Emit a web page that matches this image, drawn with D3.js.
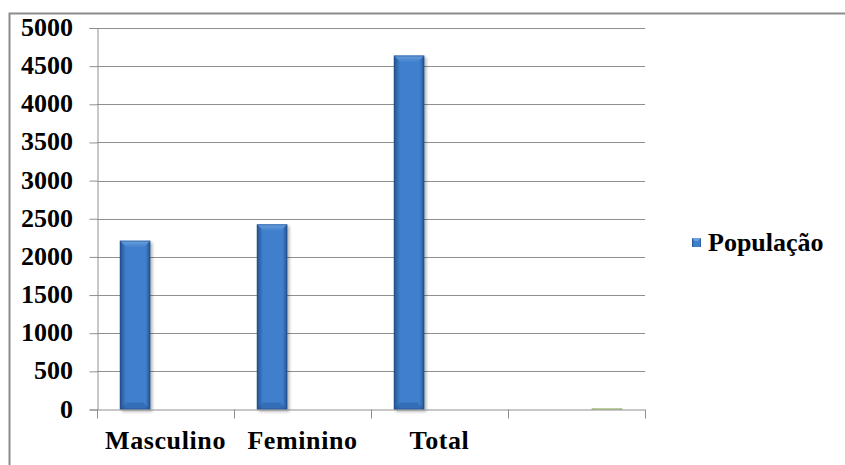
<!DOCTYPE html>
<html>
<head>
<meta charset="utf-8">
<script src="https://cdn.jsdelivr.net/npm/d3@7"></script>
<style>
  html, body { margin: 0; padding: 0; background: #fff; }
  #wrap { position: relative; width: 845px; height: 465px; overflow: hidden; }
  #wrap svg { position: absolute; left: 0; top: 0; display: block; }
  .lbl { position: absolute; font: bold 26px "Liberation Serif", "Times New Roman", serif;
         line-height: 26px; color: #000; white-space: nowrap; }
  .xlbl { letter-spacing: 0.6px; }
</style>
</head>
<body>
<div id="wrap"><svg id="chart" width="845" height="465"></svg></div>
<script>
// Categories along the x axis (the fourth slot is unlabeled)
const categories = ["Masculino", "Feminino", "Total", ""];
// Series values per category
const populacao = [2212, 2427, 4639, 0];
const serie2 = [0, 0, 0, 0];
const serie3 = [0, 0, 0, 15];
const seriesNames = ["População", "Série 2", "Série 3"];
const seriesValues = [populacao, serie2, serie3];
// Value-axis tick labels
const yTicks = [0, 500, 1000, 1500, 2000, 2500, 3000, 3500, 4000, 4500, 5000];

const BASE = 21.8; // baseline offset inside a 26px label line
const wrap = d3.select("#wrap");
const svg = d3.select("#chart");
const W = 845, H = 465;
const plot = { left: 97, right: 645, top: 28, bottom: 409.5 };

const seriesColors = [
  { mid: "#3f7fcc", edge: "#24528f", light: "#6fa3e0", dark: "#1e4a85" },
  { mid: "#c0504d", edge: "#8c2f2d", light: "#d98482", dark: "#7a2826" },
  { mid: "#c2d69a", edge: "#9bb56a", light: "#dbe8c3", dark: "#8fa860" }
];

const defs = svg.append("defs");
seriesColors.forEach((c, i) => {
  const g = defs.append("linearGradient").attr("id", "body" + i)
    .attr("x1", "0").attr("x2", "1").attr("y1", "0").attr("y2", "0");
  g.append("stop").attr("offset", "0").attr("stop-color", c.edge);
  g.append("stop").attr("offset", "0.2").attr("stop-color", c.mid);
  g.append("stop").attr("offset", "0.85").attr("stop-color", c.mid);
  g.append("stop").attr("offset", "1").attr("stop-color", c.edge);
  const t = defs.append("linearGradient").attr("id", "top" + i)
    .attr("x1", "0").attr("x2", "0").attr("y1", "0").attr("y2", "1");
  t.append("stop").attr("offset", "0").attr("stop-color", c.light);
  t.append("stop").attr("offset", "1").attr("stop-color", c.mid);
});
const shadow = defs.append("filter").attr("id", "shadow")
  .attr("x", "-20%").attr("y", "-5%").attr("width", "160%").attr("height", "115%");
shadow.append("feGaussianBlur").attr("in", "SourceAlpha").attr("stdDeviation", 1.6).attr("result", "b");
shadow.append("feOffset").attr("in", "b").attr("dx", 1.5).attr("dy", 2).attr("result", "o");
shadow.append("feComponentTransfer").attr("in", "o").attr("result", "s")
  .append("feFuncA").attr("type", "linear").attr("slope", 0.3);
const fm = shadow.append("feMerge");
fm.append("feMergeNode").attr("in", "s");
fm.append("feMergeNode").attr("in", "SourceGraphic");

// Chart-area frame
svg.append("rect")
  .attr("x", 9.5).attr("y", 13.5).attr("width", W + 20).attr("height", H + 20)
  .attr("fill", "none").attr("stroke", "#8c8c8c").attr("stroke-width", 2);

const x0 = d3.scaleBand().domain(categories.map((d, i) => i)).range([plot.left, plot.right]);
const bw = x0.bandwidth() / 4.5; // gap width 150%
const x1 = d3.scaleBand().domain(d3.range(seriesNames.length)).range([0.75 * bw, 3.75 * bw]);
const y = d3.scaleLinear().domain([0, 5000]).range([plot.bottom, plot.top]);

// Gridlines
svg.append("g").selectAll("line").data(yTicks.filter(v => v > 0)).join("line")
  .attr("x1", plot.left).attr("x2", plot.right)
  .attr("y1", d => Math.round(y(d)) + 0.5).attr("y2", d => Math.round(y(d)) + 0.5)
  .attr("stroke", "#8f8f8f").attr("stroke-width", 1);

// Value axis (line + ticks drawn by d3.axisLeft, labels set as HTML below)
const yAxis = svg.append("g").attr("transform", `translate(${plot.left + 0.5},0)`)
  .call(d3.axisLeft(y).tickValues(yTicks).tickSize(8).tickFormat(""));
yAxis.select(".domain").attr("stroke", "#8f8f8f");
yAxis.selectAll(".tick line").attr("stroke", "#8f8f8f");

wrap.selectAll("div.ylbl").data(yTicks).join("div")
  .attr("class", "lbl ylbl")
  .style("right", (W - 73) + "px")
  .style("top", d => (y(d) - 13) + "px")
  .text(d => d3.format("d")(d));

// Bars
const barG = svg.append("g");
seriesValues.forEach((vals, si) => {
  vals.forEach((v, ci) => {
    if (v <= 0) return;
    const bx = x0(ci) + x1(si), w = x1.bandwidth();
    const by = y(v), bh = plot.bottom - by;
    const c = seriesColors[si];
    const g = barG.append("g").attr("filter", "url(#shadow)");
    g.append("rect").attr("x", bx).attr("y", by).attr("width", w).attr("height", bh)
      .attr("fill", `url(#body${si})`);
    const b = Math.min(7, w / 3, bh / 2);
    // top bevel
    g.append("path").attr("d", `M${bx},${by}L${bx + w},${by}L${bx + w - b},${by + b}L${bx + b},${by + b}Z`)
      .attr("fill", `url(#top${si})`).attr("opacity", 0.9);
    // bottom bevel
    g.append("path").attr("d", `M${bx},${by + bh}L${bx + w},${by + bh}L${bx + w - b},${by + bh - b}L${bx + b},${by + bh - b}Z`)
      .attr("fill", c.dark).attr("opacity", 0.3);
    g.append("rect").attr("x", bx + 0.5).attr("y", by + 0.5).attr("width", w - 1).attr("height", Math.max(0, bh - 1))
      .attr("fill", "none").attr("stroke", c.dark).attr("stroke-opacity", 0.5).attr("stroke-width", 1);
  });
});

// Category axis
const xAxisG = svg.append("g").attr("transform", `translate(0,${plot.bottom})`);
xAxisG.append("line").attr("x1", plot.left).attr("x2", plot.right).attr("y1", 0.5).attr("y2", 0.5)
  .attr("stroke", "#8f8f8f");
xAxisG.selectAll("line.tk").data(d3.range(categories.length + 1)).join("line").attr("class", "tk")
  .attr("x1", d => Math.round(plot.left + d * x0.bandwidth()) + 0.5)
  .attr("x2", d => Math.round(plot.left + d * x0.bandwidth()) + 0.5)
  .attr("y1", 0).attr("y2", 9).attr("stroke", "#8f8f8f");

wrap.selectAll("div.xlbl").data(categories).join("div")
  .attr("class", "lbl xlbl")
  .style("left", (d, i) => (x0(i) + x0.bandwidth() / 2) + "px")
  .style("top", (450 - BASE) + "px")
  .style("transform", "translateX(-50%)")
  .text(d => d);

// Legend
const leg = svg.append("g").attr("transform", "translate(692,238)");
leg.append("rect").attr("width", 9).attr("height", 9).attr("fill", "url(#body0)");
leg.append("path").attr("d", "M0,0L9,0L6,3L3,3Z").attr("fill", "#6fa3e0");
wrap.append("div").attr("class", "lbl")
  .style("left", "708px").style("top", (252 - BASE) + "px")
  .text(seriesNames[0]);
</script>
</body>
</html>
